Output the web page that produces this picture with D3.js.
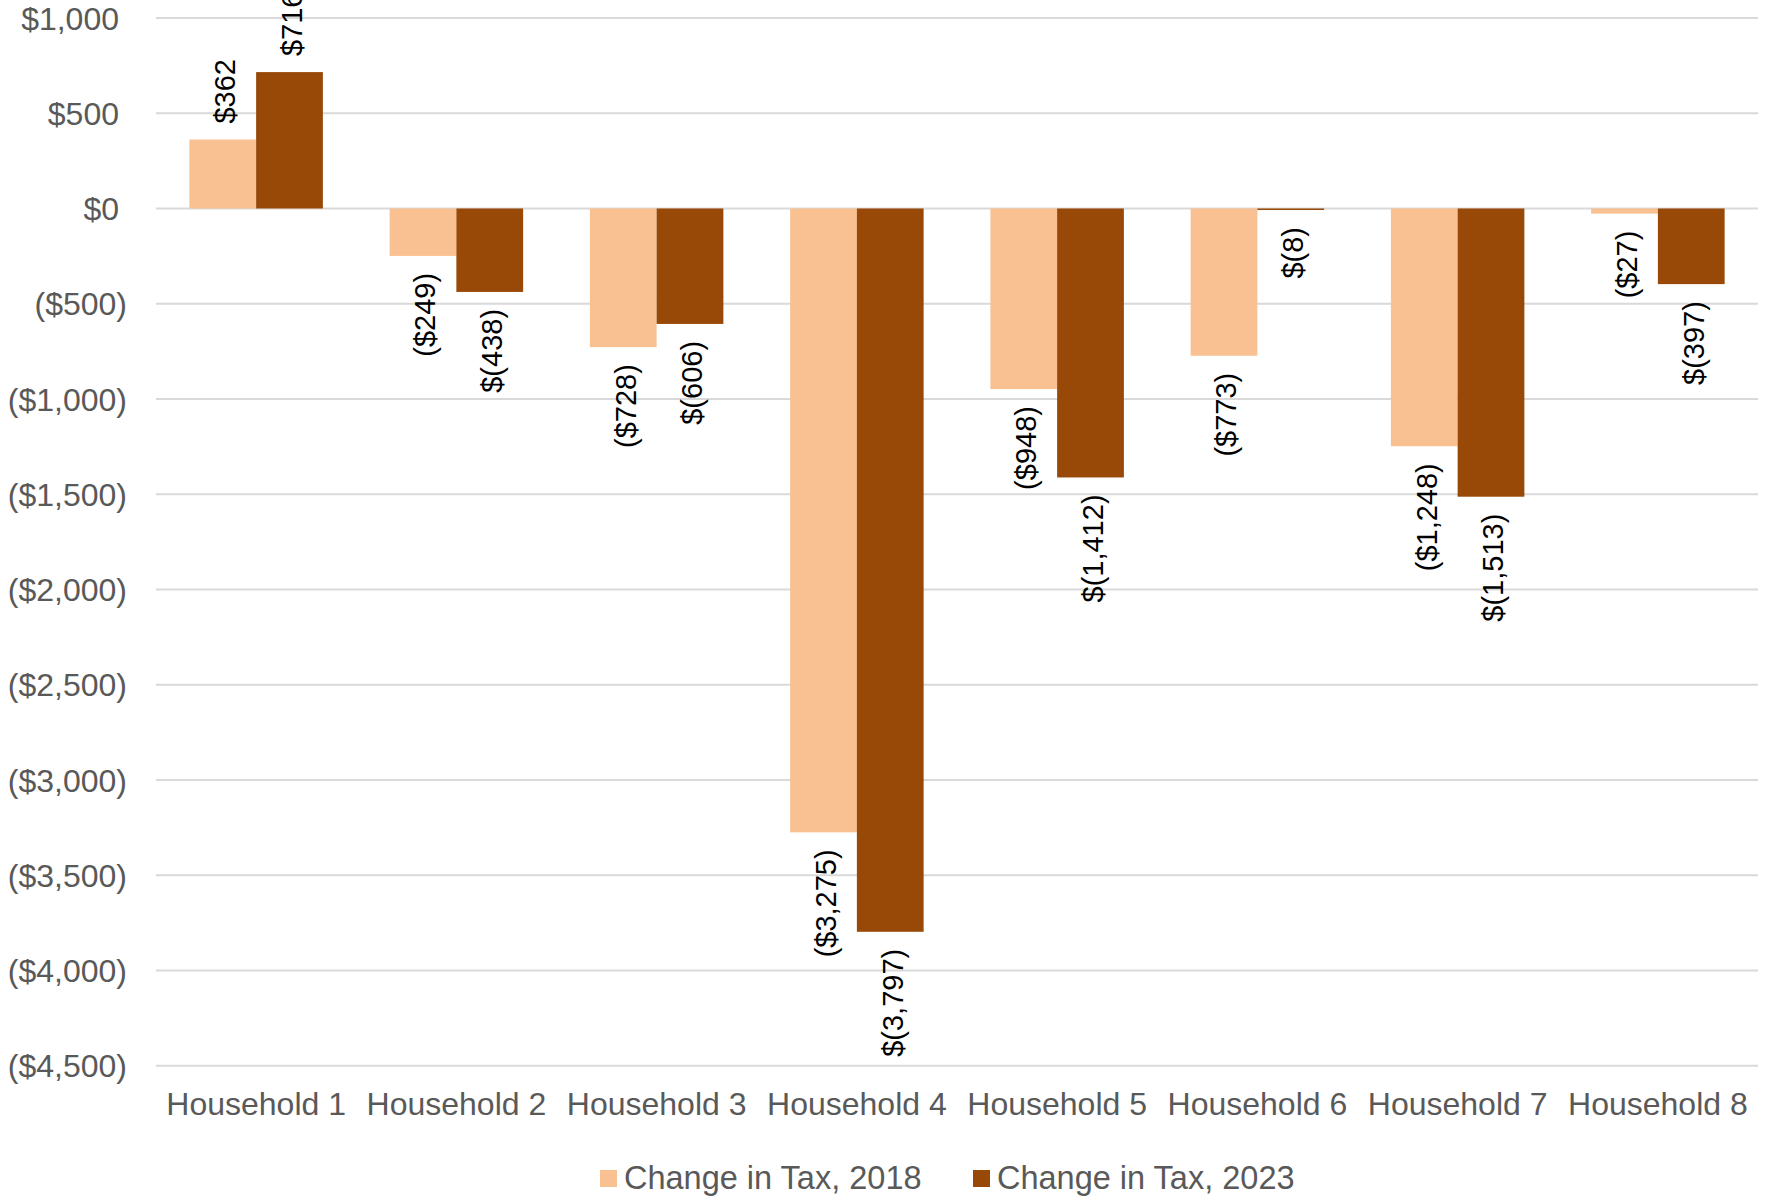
<!DOCTYPE html>
<html>
<head>
<meta charset="utf-8">
<script src="https://cdn.jsdelivr.net/npm/d3@7"></script>
<style>
  html, body { margin: 0; padding: 0; background: #ffffff; }
  svg { display: block; font-family: "Liberation Sans", Arial, sans-serif; }
</style>
</head>
<body>
<svg id="chart" width="1770" height="1201"></svg>
<script>
// Households compared
const categories = ["Household 1", "Household 2", "Household 3", "Household 4",
                    "Household 5", "Household 6", "Household 7", "Household 8"];

// Series names
const seriesNames = ["Change in Tax, 2018", "Change in Tax, 2023"];

// Change in tax per household, dollars
const change2018 = [362, -249, -728, -3275, -948, -773, -1248, -27];
const change2023 = [716, -438, -606, -3797, -1412, -8, -1513, -397];

// Y axis ticks
const yTicks = [1000, 500, 0, -500, -1000, -1500, -2000, -2500, -3000, -3500, -4000, -4500];

const colors = ["#F9C191", "#984807"];

const svg = d3.select("#chart");

const plot = { left: 156, right: 1758, top: 18, bottom: 1065.7 };

const y = d3.scaleLinear()
  .domain([-4500, 1000])
  .range([plot.bottom, plot.top]);

const x = d3.scaleBand()
  .domain(categories)
  .range([plot.left, plot.right])
  .padding(0);

const xs = d3.scaleBand()
  .domain([0, 1])
  .range([0, x.bandwidth()])
  .paddingInner(0)
  .paddingOuter(0.5);

// Gridlines
svg.append("g")
  .selectAll("line")
  .data(yTicks)
  .join("line")
  .attr("x1", plot.left)
  .attr("x2", plot.right)
  .attr("y1", d => y(d))
  .attr("y2", d => y(d))
  .attr("stroke", "#d9d9d9")
  .attr("stroke-width", 2);

// Y axis labels: accounting style, positives padded by the width of ")"
const fmtAxis = v => {
  const s = "$" + d3.format(",")(Math.abs(v));
  return v < 0 ? "(" + s + ")" : s;
};
const yAxis = d3.axisLeft(y).tickValues(yTicks).tickSize(0).tickPadding(0).tickFormat(fmtAxis);
const gy = svg.append("g").attr("transform", `translate(127,0)`).call(yAxis);
gy.select(".domain").remove();
gy.selectAll("text")
  .attr("font-size", 32)
  .attr("font-family", "Liberation Sans, Arial, sans-serif")
  .attr("fill", "#595959")
  .attr("dy", "0.35em")
  .attr("dx", d => d >= 0 ? -8 : 0);

// X axis labels
const xAxis = d3.axisBottom(x).tickSize(0).tickPadding(0);
const gx = svg.append("g").attr("transform", `translate(0,1115)`).call(xAxis);
gx.select(".domain").remove();
gx.selectAll("text")
  .attr("font-size", 32)
  .attr("font-family", "Liberation Sans, Arial, sans-serif")
  .attr("fill", "#595959")
  .attr("dy", 0)
  .attr("y", 0);

// Bars
const seriesData = [change2018, change2023];
const rows = [];
seriesData.forEach((vals, si) => {
  vals.forEach((v, i) => rows.push({ cat: categories[i], s: si, v }));
});

svg.append("g")
  .selectAll("rect")
  .data(rows)
  .join("rect")
  .attr("x", d => x(d.cat) + xs(d.s))
  .attr("width", xs.bandwidth())
  .attr("y", d => Math.min(y(d.v), y(0)))
  .attr("height", d => Math.abs(y(d.v) - y(0)))
  .attr("fill", d => colors[d.s]);

// Data labels, rotated
const fmt2018 = v => v < 0 ? "($" + d3.format(",")(-v) + ")" : "$" + d3.format(",")(v);
const fmt2023 = v => v < 0 ? "$(" + d3.format(",")(-v) + ")" : "$" + d3.format(",")(v);

svg.append("g")
  .selectAll("text")
  .data(rows)
  .join("text")
  .attr("transform", d => {
    const cx = x(d.cat) + xs(d.s) + xs.bandwidth() / 2;
    const cy = d.v >= 0 ? y(d.v) - 16 : y(d.v) + 17;
    return `translate(${cx},${cy}) rotate(-90)`;
  })
  .attr("text-anchor", d => d.v >= 0 ? "start" : "end")
  .attr("dy", "0.43em")
  .attr("font-size", 29)
  .attr("fill", "#000000")
  .text(d => d.s === 0 ? fmt2018(d.v) : fmt2023(d.v));

// Legend
const legendX = [600, 973];
const legend = svg.append("g");
seriesNames.forEach((name, i) => {
  legend.append("rect")
    .attr("x", legendX[i]).attr("y", 1170)
    .attr("width", 17).attr("height", 17)
    .attr("fill", colors[i]);
  legend.append("text")
    .attr("x", legendX[i] + 24).attr("y", 1189)
    .attr("font-size", 32.5)
    .attr("fill", "#595959")
    .text(name);
});
</script>
</body>
</html>
